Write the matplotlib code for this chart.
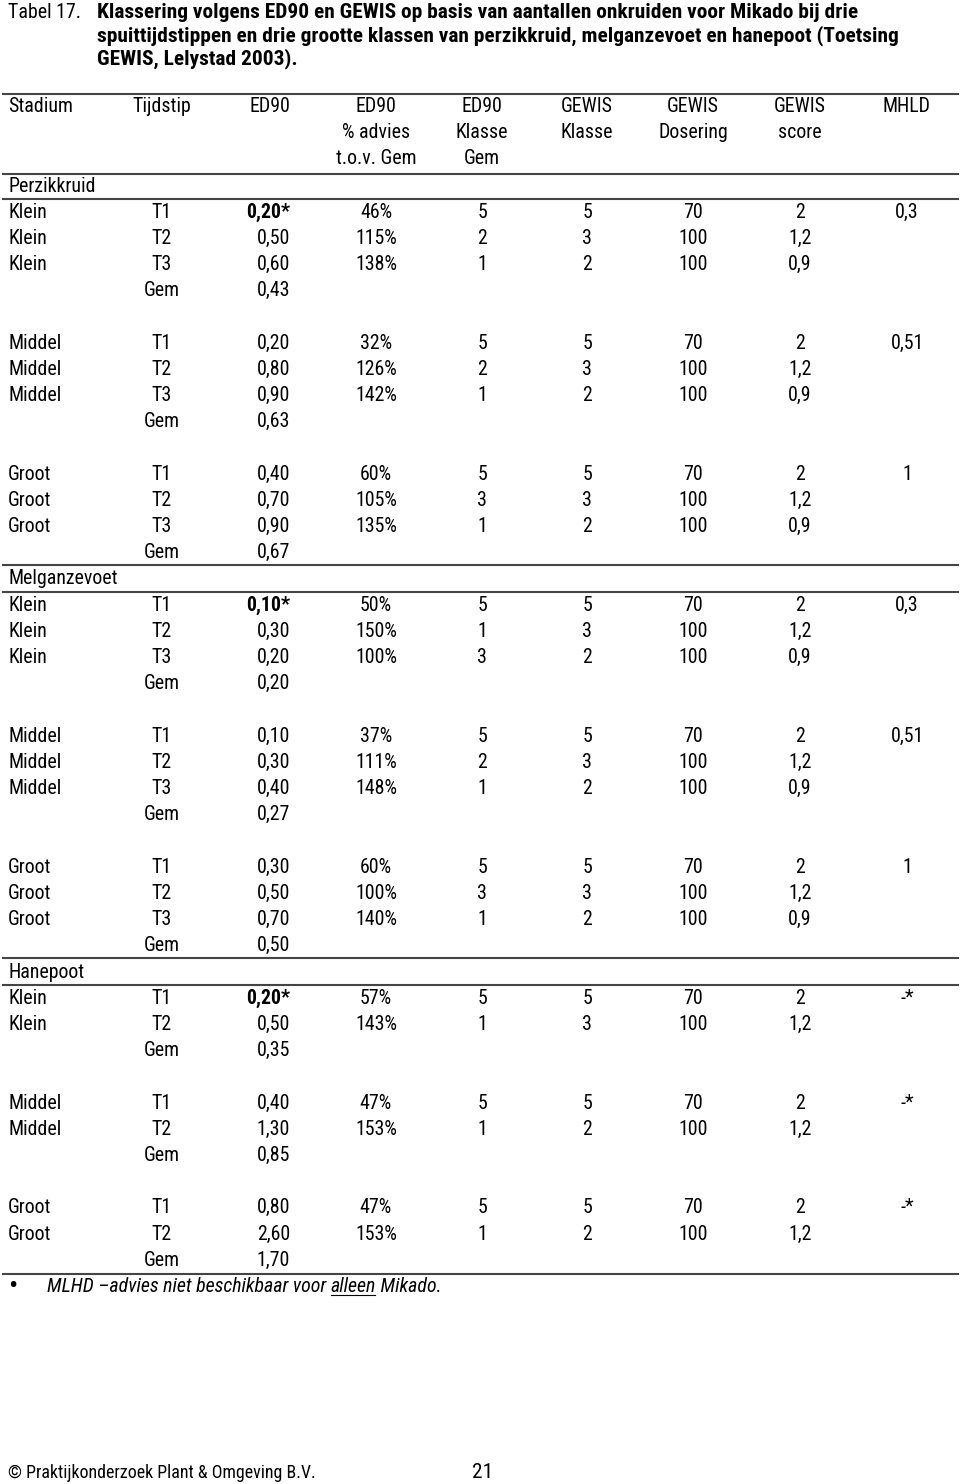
import matplotlib
matplotlib.use("Agg")
import matplotlib.pyplot as plt
from matplotlib import font_manager as fm

# pick a narrow face if one is installed
names = {f.name for f in fm.fontManager.ttflist}
stretch = 'normal'
family = 'Liberation Sans'
for cand in ['Liberation Sans Narrow', 'Roboto Condensed', 'Open Sans Condensed']:
    if cand in names:
        family = cand
        break
else:
    if any(f.name == 'DejaVu Sans' and f.stretch in ('condensed', 'semi-condensed', 500, 300)
           for f in fm.fontManager.ttflist):
        family = 'DejaVu Sans'
        stretch = 'condensed'
plt.rcParams['font.family'] = [family, 'DejaVu Sans']
plt.rcParams['font.stretch'] = stretch

# table data
species = ['Perzikkruid', 'Melganzevoet', 'Hanepoot']
group_sizes = [[3, 3, 3], [3, 3, 3], [2, 2, 2]]
stadium = ['Klein', 'Klein', 'Klein', 'Middel', 'Middel', 'Middel', 'Groot', 'Groot', 'Groot',
           'Klein', 'Klein', 'Klein', 'Middel', 'Middel', 'Middel', 'Groot', 'Groot', 'Groot',
           'Klein', 'Klein', 'Middel', 'Middel', 'Groot', 'Groot']
tijdstip = ['T1', 'T2', 'T3'] * 6 + ['T1', 'T2'] * 3
ed90 = ['0,20*', '0,50', '0,60', '0,20', '0,80', '0,90', '0,40', '0,70', '0,90',
        '0,10*', '0,30', '0,20', '0,10', '0,30', '0,40', '0,30', '0,50', '0,70',
        '0,20*', '0,50', '0,40', '1,30', '0,80', '2,60']
advies = ['46%', '115%', '138%', '32%', '126%', '142%', '60%', '105%', '135%',
          '50%', '150%', '100%', '37%', '111%', '148%', '60%', '100%', '140%',
          '57%', '143%', '47%', '153%', '47%', '153%']
ed90_klasse = ['5', '2', '1', '5', '2', '1', '5', '3', '1',
               '5', '1', '3', '5', '2', '1', '5', '3', '1',
               '5', '1', '5', '1', '5', '1']
gewis_klasse = ['5', '3', '2', '5', '3', '2', '5', '3', '2',
                '5', '3', '2', '5', '3', '2', '5', '3', '2',
                '5', '3', '5', '2', '5', '2']
dosering = ['70', '100', '100'] * 6 + ['70', '100'] * 3
score = ['2', '1,2', '0,9'] * 6 + ['2', '1,2'] * 3
mhld = ['0,3', '', '', '0,51', '', '', '1', '', ''] * 2 + ['-*', '', '-*', '', '-*', '']
gem = ['0,43', '0,63', '0,67', '0,20', '0,27', '0,50', '0,35', '0,85', '1,70']

headers = [['Stadium'], ['Tijdstip'], ['ED90'], ['ED90', '% advies', 't.o.v. Gem'],
           ['ED90', 'Klasse', 'Gem'], ['GEWIS', 'Klasse'], ['GEWIS', 'Dosering'],
           ['GEWIS', 'score'], ['MHLD']]
title = ['Klassering volgens ED90 en GEWIS op basis van aantallen onkruiden voor Mikado bij drie',
         'spuittijdstippen en drie grootte klassen van perzikkruid, melganzevoet en hanepoot (Toetsing',
         'GEWIS, Lelystad 2003).']
footer = '\u00a9 Praktijkonderzoek Plant & Omgeving B.V.'

col_x = [8, 162, 290, 376, 482, 587, 693, 800, 907]
head_x = [8, 162, 270, 376, 482, 587, 693, 800, 907]
pitch = 26.2
line_kw = dict(color='#444444', lw=1.5)

fig = plt.figure(figsize=(9.6, 14.84), dpi=100)
ax = fig.add_axes([0, 0, 1, 1])
ax.set_xlim(0, 960)
ax.set_ylim(1484, 0)
ax.axis('off')
renderer = fig.canvas.get_renderer()
inv = ax.transData.inverted()


def fit_size(text, target, size, **kw):
    probe = ax.text(0, -100, text, fontsize=size, **kw)
    bb = probe.get_window_extent(renderer)
    probe.remove()
    return size * target / (bb.x1 - bb.x0)


# font sizes matched to widths in the reference
fs = fit_size('Perzikkruid', 87, 13)
tfs = fit_size(title[0], 760, 13.5, fontweight='bold')
ffs = fit_size(footer, 307, 13)

# title
ax.text(8, 12, 'Tabel 17.', fontsize=fs, va='center', ha='left')
for i, t in enumerate(title):
    ax.text(97, 12 + i * 23.5, t, fontsize=tfs, fontweight='bold', va='center', ha='left')

# header
ax.plot([3, 958], [94, 94], **line_kw)
for c, lines in enumerate(headers):
    for k, t in enumerate(lines):
        ax.text(head_x[c], 106 + k * 26, t,
                fontsize=fs, va='center', ha='left' if c == 0 else 'center')
ax.plot([3, 958], [174, 174], **line_kw)

y = 186
r = 0
g = 0
for s, sizes in zip(species, group_sizes):
    if s != species[0]:
        ax.plot([3, 958], [y - 14, y - 14], **line_kw)
    ax.text(8, y, s, fontsize=fs, va='center', ha='left')
    ax.plot([3, 958], [y + 13, y + 13], **line_kw)
    y += pitch
    for gi, n in enumerate(sizes):
        for _ in range(n):
            vals = [stadium[r], tijdstip[r], ed90[r], advies[r], ed90_klasse[r],
                    gewis_klasse[r], dosering[r], score[r], mhld[r]]
            for c, v in enumerate(vals):
                ha = 'left' if c == 0 else ('right' if c == 2 else 'center')
                fw = 'bold' if (c == 2 and v.endswith('*')) else 'normal'
                ax.text(col_x[c], y, v, fontsize=fs, va='center', ha=ha, fontweight=fw)
            r += 1
            y += pitch
        ax.text(col_x[1], y, 'Gem', fontsize=fs, va='center', ha='center')
        ax.text(col_x[2], y, gem[g], fontsize=fs, va='center', ha='right')
        g += 1
        y += pitch
        if gi < len(sizes) - 1:
            y += pitch

y -= pitch
ax.plot([3, 958], [y + 14, y + 14], **line_kw)

# footnote with underlined word
fy = y + 26
ax.text(8, fy, '\u2022', fontsize=fs * 1.4, va='center', ha='left')
x0 = 47
parts = ['MLHD \u2013advies niet beschikbaar voor ', 'alleen', ' Mikado.']
for i, p in enumerate(parts):
    t = ax.text(x0, fy, p, fontsize=fs, style='italic', va='center', ha='left')
    bb = t.get_window_extent(renderer)
    (xa, _), (xb, _) = inv.transform([[bb.x0, bb.y0], [bb.x1, bb.y0]])
    if i == 1:
        ax.plot([xa, xb - 1], [fy + 9, fy + 9], color='black', lw=0.8)
    x0 = xb

# page footer
ax.text(8, 1473, footer, fontsize=ffs, va='center', ha='left')
ax.text(483, 1473, '21', fontsize=fs + 1, va='center', ha='center')

fig.savefig('out.png', dpi=100)
